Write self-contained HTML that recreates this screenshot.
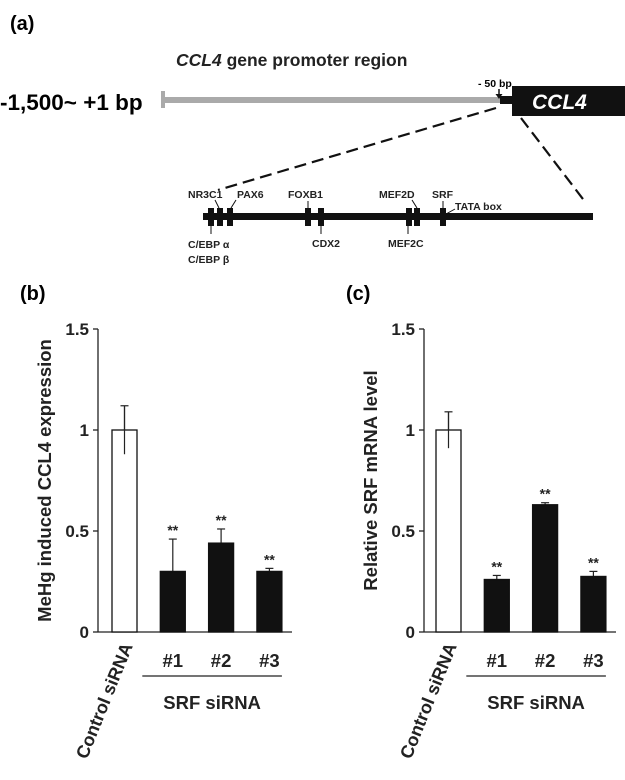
<!DOCTYPE html>
<html><head><meta charset="utf-8"><style>
body{margin:0;background:#fff;}
svg{display:block;font-family:"Liberation Sans",Arial,sans-serif;}
svg text{font-weight:700;}
</style></head><body>
<svg id="fig" width="625" height="780" viewBox="0 0 625 780" font-weight="bold">
<g>
<text x="10" y="30" font-size="20">(a)</text>
<text x="176" y="66" font-size="17.5" fill="#222"><tspan font-style="italic">CCL4</tspan> gene promoter region</text>
<text x="0" y="110" font-size="22.5">-1,500~ +1 bp</text>
<rect x="161" y="91" width="4" height="17" fill="#aaa"/>
<rect x="162" y="97" width="338" height="6" fill="#aaa"/>
<rect x="500" y="96" width="13" height="8" fill="#111"/>
<rect x="512" y="86" width="113" height="30" fill="#111"/>
<text x="532" y="109" font-size="21" font-style="italic" fill="#fff">CCL4</text>
<text x="478" y="87" font-size="10.5">- 50 bp</text>
<line x1="499" y1="89" x2="499" y2="97" stroke="#111" stroke-width="1.5"/>
<path d="M495.5 94 L499 99 L502.5 94Z" fill="#111"/>
<line x1="496" y1="108" x2="218" y2="190" stroke="#111" stroke-width="2.2" stroke-dasharray="12,6"/>
<line x1="521" y1="118" x2="586" y2="203" stroke="#111" stroke-width="2.2" stroke-dasharray="12,6"/>
<rect x="203" y="213" width="390" height="7" fill="#111"/>
<g fill="#111">
<rect x="208" y="208" width="6" height="18"/><rect x="217" y="208" width="6" height="18"/><rect x="227" y="208" width="6" height="18"/>
<rect x="305" y="208" width="6" height="18"/><rect x="318" y="208" width="6" height="18"/>
<rect x="406" y="208" width="6" height="18"/><rect x="414" y="208" width="6" height="18"/>
<rect x="440" y="208" width="6" height="18"/>
</g>
<g stroke="#111" stroke-width="1" fill="none">
<line x1="215" y1="200" x2="219" y2="208"/><line x1="236" y1="200" x2="231" y2="208"/>
<line x1="308" y1="201" x2="308" y2="208"/><line x1="412" y1="200" x2="417" y2="208"/>
<line x1="443" y1="201" x2="443" y2="208"/><line x1="446" y1="214" x2="455" y2="209"/>
<line x1="211" y1="226" x2="211" y2="234"/><line x1="321" y1="226" x2="321" y2="234"/><line x1="408" y1="226" x2="408" y2="234"/>
</g>
<g font-size="10.5" fill="#222">
<text x="188" y="198">NR3C1</text>
<text x="237" y="198">PAX6</text>
<text x="288" y="198">FOXB1</text>
<text x="379" y="198">MEF2D</text>
<text x="432" y="198">SRF</text>
<text x="455" y="210">TATA box</text>
<text x="188" y="248">C/EBP α</text>
<text x="188" y="263">C/EBP β</text>
<text x="312" y="247">CDX2</text>
<text x="388" y="247">MEF2C</text>
</g>
</g>
</svg>
<script>
const labels=["Control siRNA","#1","#2","#3"];
const bValues=[1,0.30,0.44,0.30];
const bErrors=[0.12,0.16,0.07,0.015];
const cValues=[1,0.26,0.63,0.275];
const cErrors=[0.09,0.02,0.01,0.025];
const yTicks=[0,0.5,1,1.5];
const sig=["","**","**","**"];
const NS="http://www.w3.org/2000/svg";
const svg=document.getElementById('fig');
function mk(tag,attrs,parent){const e=document.createElementNS(NS,tag);for(const k in attrs)e.setAttribute(k,attrs[k]);(parent||svg).appendChild(e);return e;}
function panel(name,letter,ax,axEnd,bx0,values,errors,title){
  const g=mk('g',{});
  
  
  const y0=632,y1=329;
  const y=v=>y0-(v/1.5)*(y0-y1);
  const bw=25,step=48.3;
  const bx=i=>bx0+i*step;
  const pl=mk('text',{x:ax-78,y:300,'font-size':20},g);pl.textContent=letter;
  
  
  mk('line',{x1:ax,y1:y(1.5),x2:ax,y2:y0,stroke:'#222','stroke-width':1.3},g);
  mk('line',{x1:ax,y1:y0,x2:axEnd,y2:y0,stroke:'#222','stroke-width':1.3},g);
  yTicks.forEach(t=>{
    mk('line',{x1:ax-5,y1:y(t),x2:ax,y2:y(t),stroke:'#222','stroke-width':1.3},g);
    const tx=mk('text',{x:ax-9,y:y(t)+6,'font-size':17,'text-anchor':'end',fill:'#222'},g);
    tx.textContent=String(t);
    
    
  });
  const yt=mk('text',{transform:`translate(${ax-47},${(y0+y1)/2}) rotate(-90)`,'font-size':18.5,'text-anchor':'middle',fill:'#222'},g);
  yt.textContent=title;
  
  
  values.forEach((v,i)=>{
    const x=bx(i);
    const top=y(v+errors[i]);
    mk('line',{x1:x+bw/2,y1:top,x2:x+bw/2,y2:i==0?y(v-errors[i]):y(v),stroke:'#222','stroke-width':1.2},g);
    mk('line',{x1:x+bw/2-4,y1:top,x2:x+bw/2+4,y2:top,stroke:'#222','stroke-width':1.2},g);
    if(i==0) mk('line',{x1:x+bw/2-4,y1:y(v-errors[i]),x2:x+bw/2+4,y2:y(v-errors[i]),stroke:'#222','stroke-width':1.2},g);
    const r=mk('rect',{x:x,y:y(v),width:bw,height:y0-y(v),fill:i==0?'#fff':'#111',stroke:'#111','stroke-width':1.3},g);
    
    
    if(i==0){
      mk('line',{x1:x+bw/2,y1:top,x2:x+bw/2,y2:y(v-errors[i]),stroke:'#222','stroke-width':1.2},g);
      const s=mk('text',{transform:`translate(${x+bw-4},${y0+14}) rotate(-68)`,'font-size':18,'text-anchor':'end',fill:'#222'},g);
      s.textContent=labels[i];
      
      
    } else {
      const st=mk('text',{x:x+bw/2,y:top-4,'font-size':14,'text-anchor':'middle',fill:'#222'},g);
      st.textContent=sig[i];
      
      
      const l=mk('text',{x:x+bw/2,y:667,'font-size':18.5,'text-anchor':'middle',fill:'#222'},g);
      l.textContent=labels[i];
      
      
    }
  });
  mk('line',{x1:bx(1)-18,y1:676,x2:bx(3)+bw,y2:676,stroke:'#222','stroke-width':1.2},g);
  const gl=mk('text',{x:(bx(1)-18+bx(3)+bw)/2,y:709,'font-size':18.5,'text-anchor':'middle',fill:'#222'},g);
  gl.textContent='SRF siRNA';
  
  
}
panel('panel-b','(b)',98,292,112,bValues,bErrors,'MeHg induced CCL4 expression');
panel('panel-c','(c)',424,616,436,cValues,cErrors,'Relative SRF mRNA level');
</script>
</body></html>
